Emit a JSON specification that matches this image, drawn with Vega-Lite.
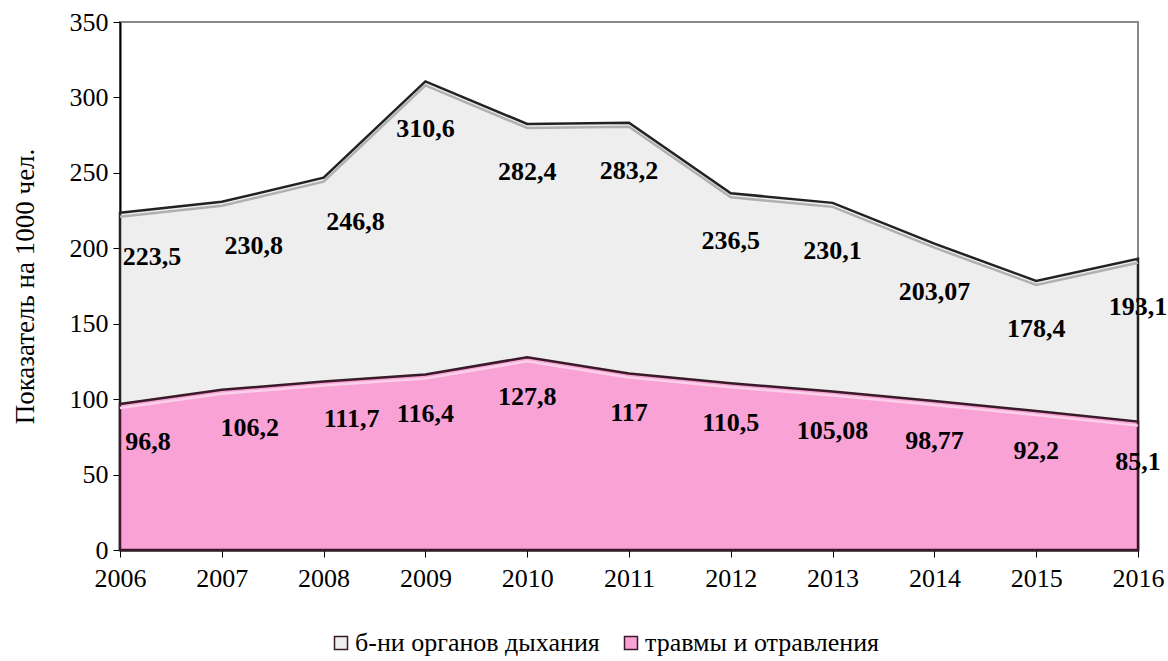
{
  "$schema": "https://vega.github.io/schema/vega-lite/v6.json",
  "width": 1018,
  "height": 528,
  "autosize": {"type": "none"},
  "padding": {"left": 120, "top": 22, "right": 30, "bottom": 111},
  "background": "white",
  "config": {
    "view": {"stroke": "#888888", "strokeWidth": 2},
    "font": "Liberation Serif",
    "axis": {"labelFont": "Liberation Serif", "titleFont": "Liberation Serif", "grid": false}
  },
  "datasets": {
    "d": [
      {"year": 2006, "series": "б-ни органов дыхания", "value": 223.5, "label": "223,5"},
      {"year": 2007, "series": "б-ни органов дыхания", "value": 230.8, "label": "230,8"},
      {"year": 2008, "series": "б-ни органов дыхания", "value": 246.8, "label": "246,8"},
      {"year": 2009, "series": "б-ни органов дыхания", "value": 310.6, "label": "310,6"},
      {"year": 2010, "series": "б-ни органов дыхания", "value": 282.4, "label": "282,4"},
      {"year": 2011, "series": "б-ни органов дыхания", "value": 283.2, "label": "283,2"},
      {"year": 2012, "series": "б-ни органов дыхания", "value": 236.5, "label": "236,5"},
      {"year": 2013, "series": "б-ни органов дыхания", "value": 230.1, "label": "230,1"},
      {"year": 2014, "series": "б-ни органов дыхания", "value": 203.07, "label": "203,07"},
      {"year": 2015, "series": "б-ни органов дыхания", "value": 178.4, "label": "178,4"},
      {"year": 2016, "series": "б-ни органов дыхания", "value": 193.1, "label": "193,1"},
      {"year": 2006, "series": "травмы и отравления", "value": 96.8, "label": "96,8"},
      {"year": 2007, "series": "травмы и отравления", "value": 106.2, "label": "106,2"},
      {"year": 2008, "series": "травмы и отравления", "value": 111.7, "label": "111,7"},
      {"year": 2009, "series": "травмы и отравления", "value": 116.4, "label": "116,4"},
      {"year": 2010, "series": "травмы и отравления", "value": 127.8, "label": "127,8"},
      {"year": 2011, "series": "травмы и отравления", "value": 117, "label": "117"},
      {"year": 2012, "series": "травмы и отравления", "value": 110.5, "label": "110,5"},
      {"year": 2013, "series": "травмы и отравления", "value": 105.08, "label": "105,08"},
      {"year": 2014, "series": "травмы и отравления", "value": 98.77, "label": "98,77"},
      {"year": 2015, "series": "травмы и отравления", "value": 92.2, "label": "92,2"},
      {"year": 2016, "series": "травмы и отравления", "value": 85.1, "label": "85,1"}
    ]
  },
  "data": {"name": "d"},
  "encoding": {
    "x": {
      "field": "year", "type": "quantitative",
      "scale": {"domain": [2006, 2016], "nice": false, "zero": false},
      "axis": {
        "title": null, "values": [2006,2007,2008,2009,2010,2011,2012,2013,2014,2015,2016],
        "format": "d", "labelFontSize": 26, "labelColor": "black", "labelPadding": 8,
        "domainColor": "black", "domainWidth": 2, "tickColor": "black", "tickSize": 7, "labelFlush": false
      }
    },
    "y": {
      "field": "value", "type": "quantitative",
      "scale": {"domain": [0, 350], "nice": false},
      "axis": {
        "title": "Показатель на 1000 чел.", "titleFontSize": 27, "titleFontWeight": "normal",
        "titleColor": "black", "titlePadding": 30,
        "values": [0,50,100,150,200,250,300,350],
        "labelFontSize": 26, "labelColor": "black", "labelPadding": 5,
        "domainColor": "black", "domainWidth": 2, "tickColor": "black", "tickSize": 7
      }
    }
  },
  "layer": [
    {
      "transform": [{"filter": "datum.series === 'б-ни органов дыхания'"}],
      "mark": {"type": "area", "stroke": "#222222", "strokeWidth": 2.5},
      "encoding": {
        "y": {"field": "value", "type": "quantitative", "stack": null},
        "color": {
          "field": "series", "type": "nominal",
          "scale": {"domain": ["б-ни органов дыхания", "травмы и отравления"], "range": ["#eeeeee", "#f8a2d6"]},
          "legend": {
            "title": null, "orient": "none", "direction": "horizontal",
            "legendX": 208, "legendY": 608,
            "symbolType": "square", "symbolSize": 169, "symbolStrokeColor": "#555555", "symbolStrokeWidth": 1.5,
            "labelFont": "Liberation Serif", "labelFontSize": 26, "labelColor": "black", "labelLimit": 0,
            "columnPadding": 18, "symbolOffset": 0, "labelOffset": 1
          }
        }
      }
    },
    {
      "transform": [{"filter": "datum.series === 'б-ни органов дыхания'"}],
      "mark": {"type": "line", "stroke": "#b0b0b0", "strokeWidth": 2.5, "yOffset": 4},
      "encoding": {"y": {"field": "value", "type": "quantitative"}}
    },
    {
      "transform": [{"filter": "datum.series === 'травмы и отравления'"}],
      "mark": {"type": "area", "stroke": "#3a1a28", "strokeWidth": 2.5},
      "encoding": {
        "y": {"field": "value", "type": "quantitative", "stack": null},
        "color": {"field": "series", "type": "nominal"}
      }
    },
    {
      "transform": [{"filter": "datum.series === 'травмы и отравления'"}],
      "mark": {"type": "line", "stroke": "#fbd0ea", "strokeWidth": 2.5, "yOffset": 4},
      "encoding": {"y": {"field": "value", "type": "quantitative"}}
    },
    {
      "transform": [{"filter": "datum.series === 'б-ни органов дыхания' && datum.year > 2008"}],
      "mark": {"type": "text", "fontWeight": "bold", "fontSize": 26, "font": "Liberation Serif", "color": "black", "dy": 48},
      "encoding": {"text": {"field": "label"}}
    },
    {
      "transform": [{"filter": "datum.series === 'б-ни органов дыхания' && datum.year <= 2008"}],
      "mark": {"type": "text", "fontWeight": "bold", "fontSize": 26, "font": "Liberation Serif", "color": "black", "dy": 44, "dx": 32},
      "encoding": {"text": {"field": "label"}}
    },
    {
      "transform": [{"filter": "datum.series === 'травмы и отравления' && datum.year > 2008"}],
      "mark": {"type": "text", "fontWeight": "bold", "fontSize": 26, "font": "Liberation Serif", "color": "black", "dy": 40},
      "encoding": {"text": {"field": "label"}}
    },
    {
      "transform": [{"filter": "datum.series === 'травмы и отравления' && datum.year <= 2008"}],
      "mark": {"type": "text", "fontWeight": "bold", "fontSize": 26, "font": "Liberation Serif", "color": "black", "dy": 38, "dx": 28},
      "encoding": {"text": {"field": "label"}}
    }
  ]
}
